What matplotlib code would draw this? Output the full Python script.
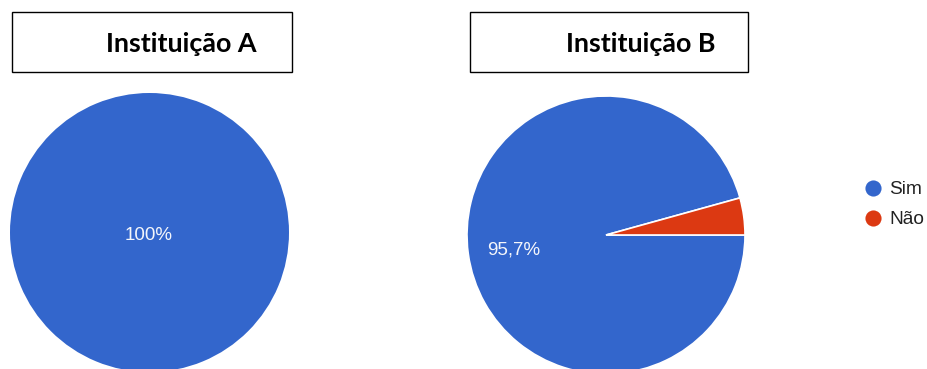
import matplotlib
matplotlib.use("Agg")
import matplotlib.pyplot as plt
from matplotlib.patches import Rectangle

categories = ["Sim", "Não"]
inst_a_values = [100.0]
inst_b_values = [95.7, 4.3]
titles = ["Instituição A", "Instituição B"]
colors = {"Sim": "#3366CC", "Não": "#DC3912"}

W, H = 928, 369
fig = plt.figure(figsize=(W / 100, H / 100), dpi=100)
ax = fig.add_axes([0, 0, 1, 1])

def fmt_a(p):
    return f"{p:.0f}%"

def fmt_b(p):
    return f"{p:.1f}%".replace(".", ",") if p > 10 else ""

label_kw = dict(color="#F4F6FB", fontsize=13.5, family="Liberation Sans")

# Instituição A
_, _, auto_a = ax.pie(inst_a_values, colors=[colors["Sim"]], center=(149.5, H - 232.5),
                      radius=139.5, startangle=0, autopct=fmt_a, pctdistance=0.0,
                      textprops=label_kw, wedgeprops=dict(linewidth=0), frame=True)

# Instituição B
_, _, auto_b = ax.pie(inst_b_values, colors=[colors[c] for c in categories],
                      center=(606, H - 235), radius=139, startangle=0, counterclock=False,
                      autopct=fmt_b, pctdistance=0.66, textprops=label_kw,
                      wedgeprops=dict(linewidth=1.2, edgecolor="white"), frame=True)

# nudge percentage labels down slightly
for t in list(auto_a) + list(auto_b):
    x, y = t.get_position()
    t.set_position((x - 1, y - 3))

ax.set_xlim(0, W)
ax.set_ylim(0, H)
ax.set_aspect("equal")
ax.axis("off")

# Title boxes
boxes = [(12, 12, 280, 60, 181.5), (470, 12, 278, 60, 640.5)]
for (x0, y0, w, h, tx), title in zip(boxes, titles):
    ax.add_patch(Rectangle((x0, H - y0 - h), w, h, facecolor="white",
                           edgecolor="black", linewidth=1.0, zorder=5))
    ax.text(tx, H - 52, title, ha="center", va="baseline", fontsize=19.4,
            fontweight="bold", family="Lato", color="black", zorder=6)

# Legend
for i, c in enumerate(categories):
    y = H - 188 - 30 * i
    ax.scatter([873], [y], s=135, color=colors[c], linewidths=0, zorder=6)
    ax.text(889, y, c, ha="left", va="center_baseline", fontsize=13.8,
            family="Liberation Sans", color="#222222", zorder=6)

fig.savefig("out.png", dpi=100)
